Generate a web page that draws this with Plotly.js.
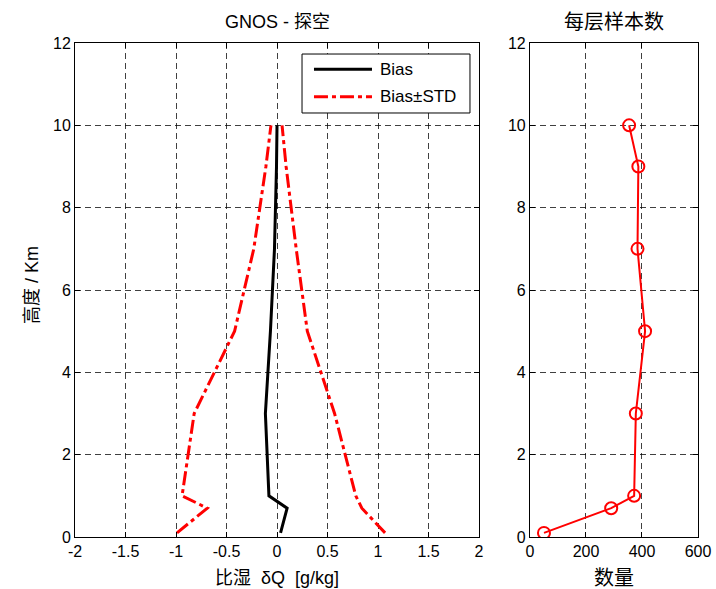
<!DOCTYPE html>
<html><head><meta charset="utf-8">
<script src="https://cdn.plot.ly/plotly-3.0.1.min.js"></script>
<style>html,body{margin:0;padding:0;background:#fff;}</style>
</head><body>
<div id="chart" style="width:716px;height:589px;"></div>
<script>
// Heights (km)
const heights = [0.1, 0.7, 1, 3, 5, 7, 9, 10];
// Bias of specific humidity δQ (g/kg)
const bias = [0.035, 0.10, -0.08, -0.115, -0.065, -0.025, -0.005, 0.0];
// Bias - STD
const biasMinusStd = [-0.99, -0.69, -0.94, -0.82, -0.42, -0.23, -0.11, -0.06];
// Bias + STD
const biasPlusStd = [1.07, 0.84, 0.78, 0.57, 0.30, 0.19, 0.09, 0.05];
// Sample count per layer
const sampleCount = [50, 290, 372, 378, 411, 384, 387, 354];

const xTicksLeft = [-2, -1.5, -1, -0.5, 0, 0.5, 1, 1.5, 2];
const xTicksRight = [0, 200, 400, 600];
const yTicks = [0, 2, 4, 6, 8, 10, 12];
const legendLabels = ['Bias', 'Bias±STD'];

const FONT = 'Liberation Sans, Arial, Noto Sans CJK SC, sans-serif';
const DASHDOT = '14px,4px,4px,4px';

const traces = [
  {x: bias, y: heights, xaxis: 'x', yaxis: 'y', mode: 'lines', name: legendLabels[0],
   line: {color: '#000', width: 3}},
  {x: biasMinusStd, y: heights, xaxis: 'x', yaxis: 'y', mode: 'lines', name: legendLabels[1],
   line: {color: '#ff0000', width: 3, dash: DASHDOT}},
  {x: biasPlusStd, y: heights, xaxis: 'x', yaxis: 'y', mode: 'lines', name: 'Bias+STD',
   line: {color: '#ff0000', width: 3, dash: DASHDOT}},
  {x: sampleCount, y: heights, xaxis: 'x2', yaxis: 'y2', mode: 'lines+markers',
   line: {color: '#ff0000', width: 2},
   marker: {symbol: 'circle-open', size: 12, color: '#ff0000', line: {width: 2, color: '#ff0000'}}}
];

const axisCommon = {
  showline: true, linecolor: '#000', linewidth: 1, mirror: 'allticks',
  ticks: 'inside', ticklen: 5, tickcolor: '#000', tickwidth: 1,
  showgrid: true, gridcolor: 'rgba(0,0,0,0.75)', gridwidth: 1, griddash: '6px,4px',
  zeroline: false, tickfont: {family: FONT, size: 16, color: '#000'}
};

// custom legend (box + line samples + labels) in paper coordinates
const lg = {x0: 0.3644, x1: 0.634, y0: 0.8583, y1: 0.9777,
  sx0: 0.3836, sx1: 0.4767, tx: 0.4864, rows: [0.9468, 0.8913]};

const layout = {
  width: 716, height: 589,
  margin: {l: 75, r: 18, t: 43, b: 52},
  paper_bgcolor: '#fff', plot_bgcolor: '#fff',
  showlegend: false,
  xaxis: Object.assign({}, axisCommon, {domain: [0, 0.6485], range: [-2, 2],
    tickvals: xTicksLeft, ticktext: xTicksLeft.map(String), anchor: 'y'}),
  yaxis: Object.assign({}, axisCommon, {domain: [0, 1], range: [0, 12],
    tickvals: yTicks, anchor: 'x'}),
  xaxis2: Object.assign({}, axisCommon, {domain: [0.7303, 1], range: [0, 600],
    tickvals: xTicksRight, anchor: 'y2'}),
  yaxis2: Object.assign({}, axisCommon, {domain: [0, 1], range: [0, 12],
    tickvals: yTicks, anchor: 'x2'}),
  shapes: [
    {type: 'rect', xref: 'paper', yref: 'paper', x0: lg.x0, x1: lg.x1, y0: lg.y0, y1: lg.y1,
     fillcolor: '#fff', line: {color: '#000', width: 1}, layer: 'above'},
    {type: 'line', xref: 'paper', yref: 'paper', x0: lg.sx0, x1: lg.sx1, y0: lg.rows[0], y1: lg.rows[0],
     line: {color: '#000', width: 3}, layer: 'above'},
    {type: 'line', xref: 'paper', yref: 'paper', x0: lg.sx0, x1: lg.sx1, y0: lg.rows[1], y1: lg.rows[1],
     line: {color: '#ff0000', width: 3, dash: DASHDOT}, layer: 'above'}
  ],
  annotations: [
    {text: legendLabels[0], xref: 'paper', yref: 'paper', x: lg.tx, y: lg.rows[0],
     showarrow: false, font: {family: FONT, size: 17, color: '#000'}, xanchor: 'left', yanchor: 'middle'},
    {text: legendLabels[1], xref: 'paper', yref: 'paper', x: lg.tx, y: lg.rows[1],
     showarrow: false, font: {family: FONT, size: 17, color: '#000'}, xanchor: 'left', yanchor: 'middle'},
    {text: 'GNOS - 探空', xref: 'paper', yref: 'paper', x: 0.3243, y: 1, yshift: 21,
     showarrow: false, font: {family: FONT, size: 18, color: '#000'}, xanchor: 'center', yanchor: 'middle'},
    {text: '每层样本数', xref: 'paper', yref: 'paper', x: 0.865, y: 1, yshift: 21,
     showarrow: false, font: {family: FONT, size: 20, color: '#000'}, xanchor: 'center', yanchor: 'middle'},
    {text: '比湿  δQ  [g/kg]', xref: 'paper', yref: 'paper', x: 0.3243, y: 0, yshift: -41,
     showarrow: false, font: {family: FONT, size: 18, color: '#000'}, xanchor: 'center', yanchor: 'middle'},
    {text: '数量', xref: 'paper', yref: 'paper', x: 0.865, y: 0, yshift: -41,
     showarrow: false, font: {family: FONT, size: 20, color: '#000'}, xanchor: 'center', yanchor: 'middle'},
    {text: '高度 / Km', xref: 'paper', yref: 'paper', x: 0, xshift: -43, y: 0.5, yshift: 5,
     textangle: -90, showarrow: false, font: {family: FONT, size: 18, color: '#000'}, xanchor: 'center', yanchor: 'middle'}
  ]
};

Plotly.newPlot('chart', traces, layout, {displayModeBar: false, staticPlot: true});
</script>
</body></html>
